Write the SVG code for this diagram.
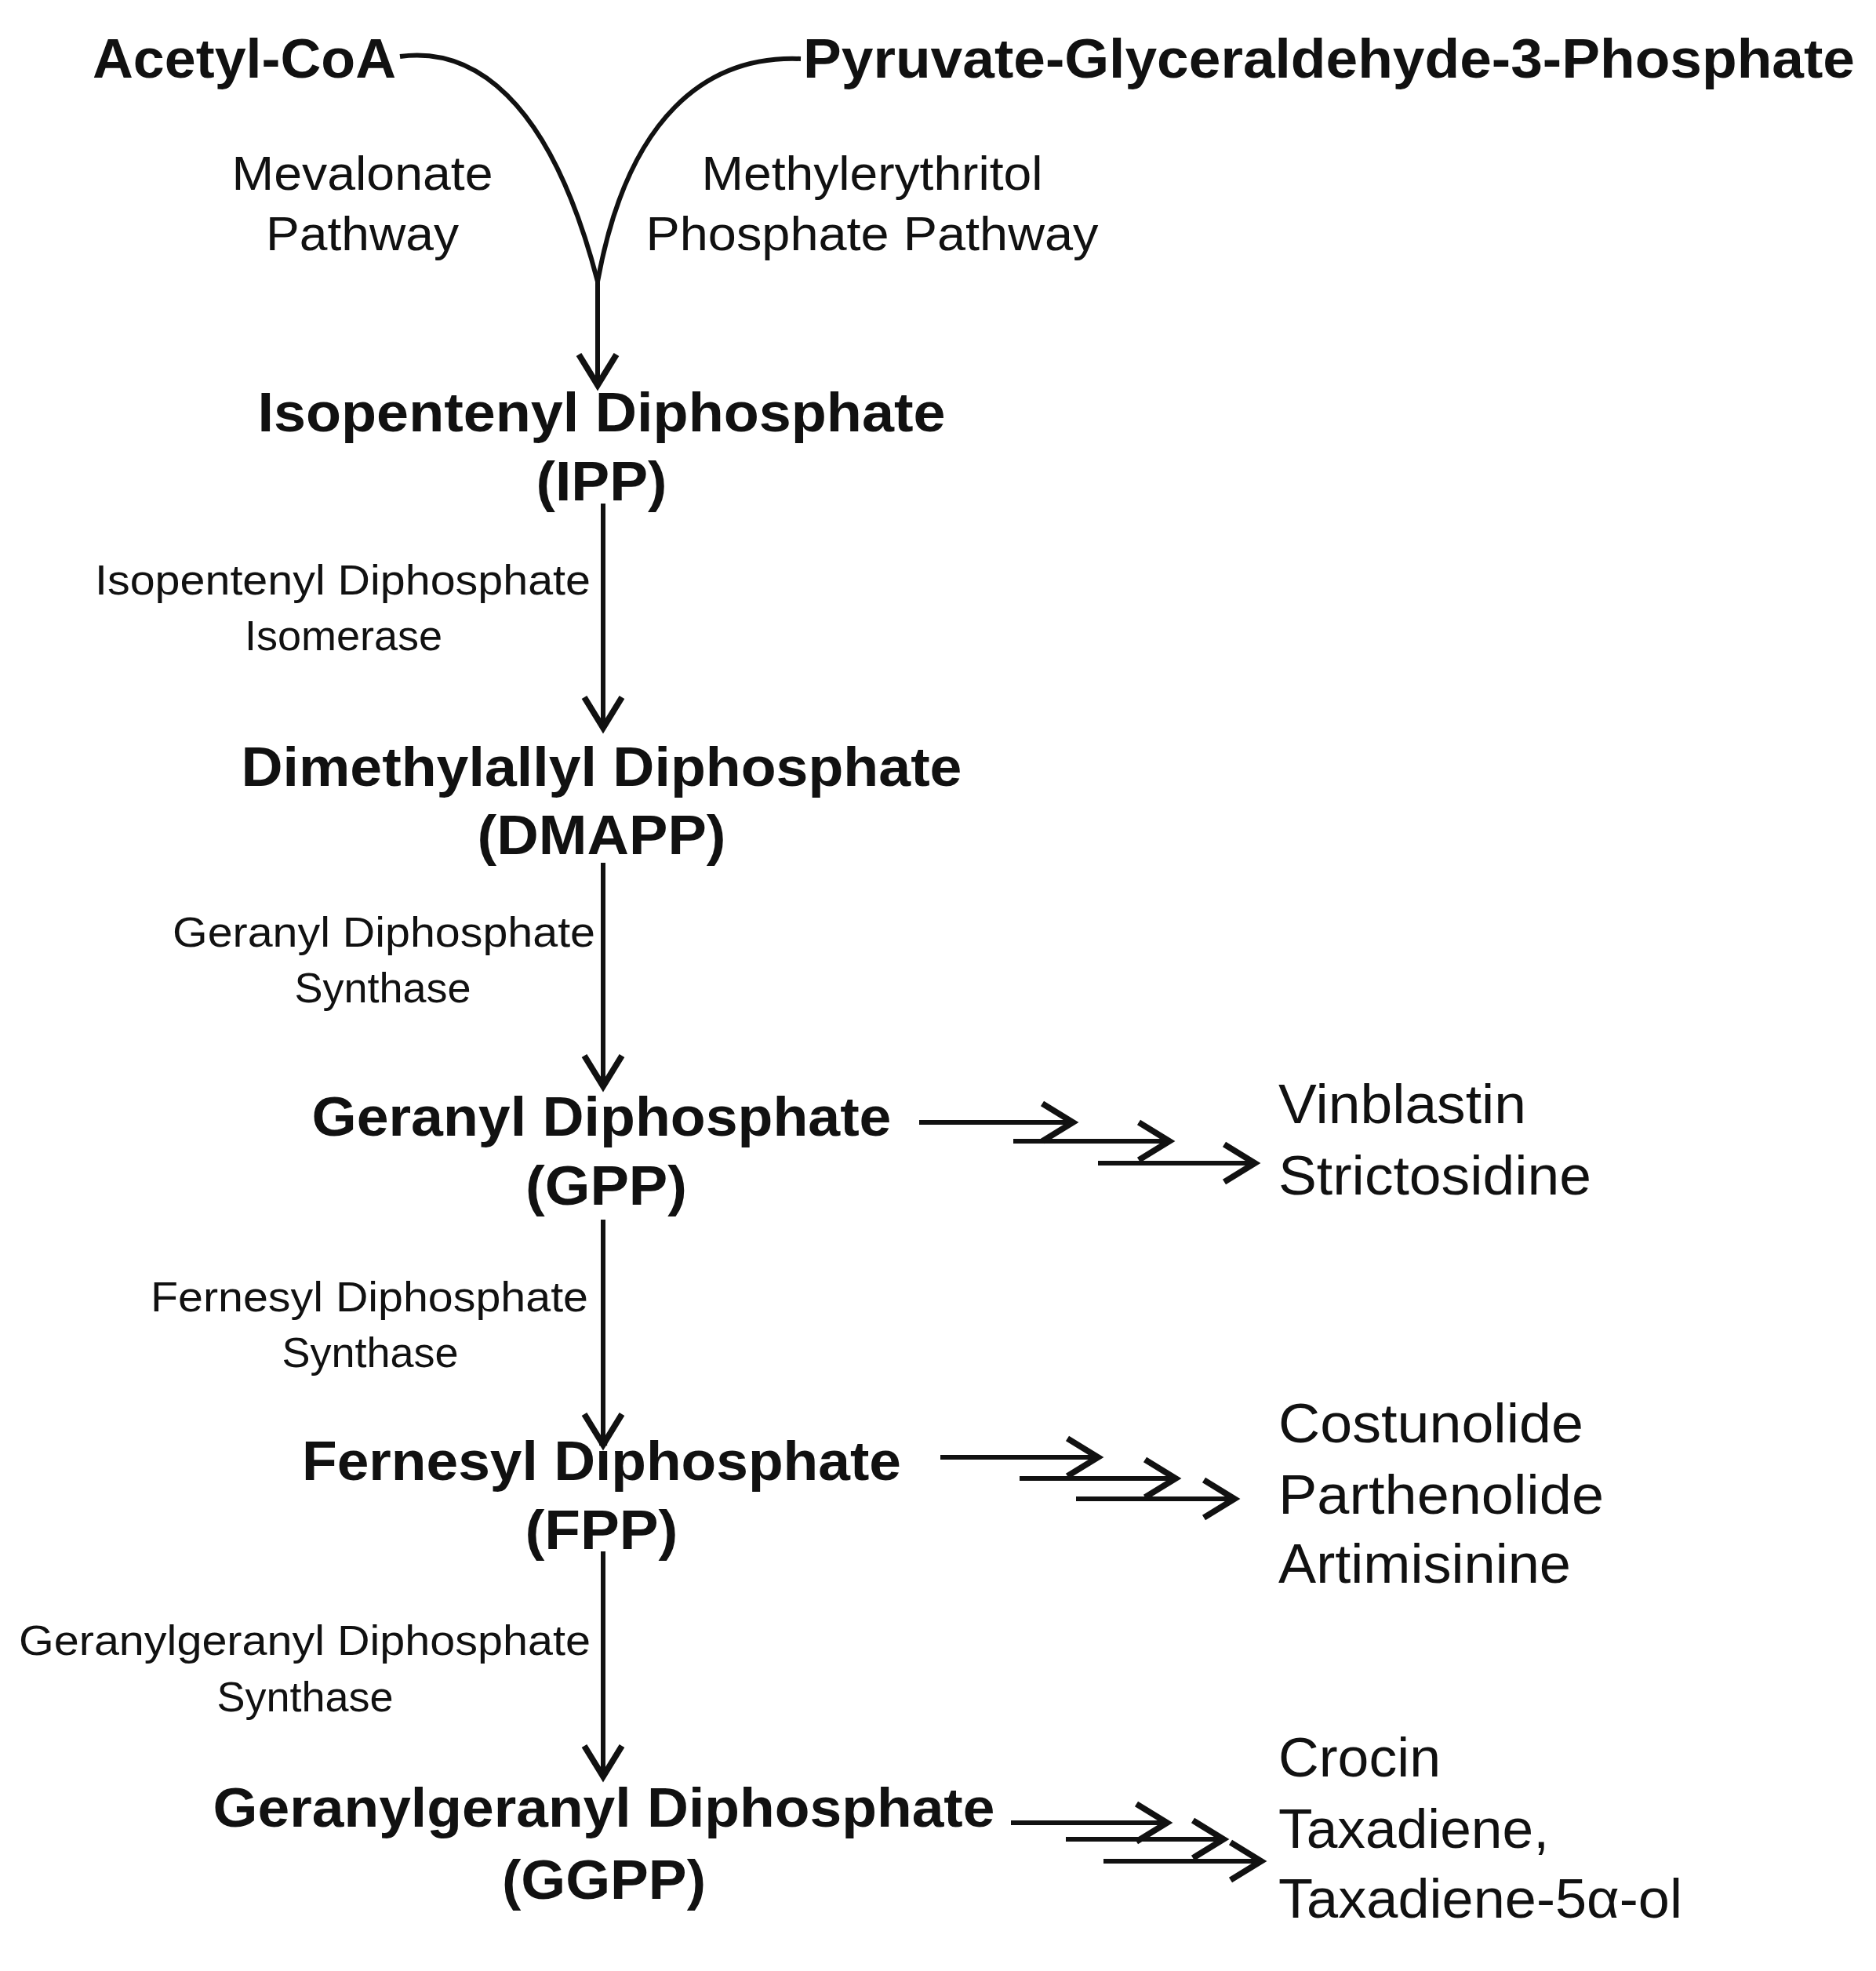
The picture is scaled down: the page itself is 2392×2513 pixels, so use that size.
<svg xmlns="http://www.w3.org/2000/svg" width="2392" height="2513" viewBox="0 0 2392 2513">
<style>
text{font-family:"Liberation Sans",Arial,sans-serif;fill:#111}
.b{font-weight:bold;font-size:70px}
.e{font-size:54px}
.m{font-size:62px}
.p{font-size:70px}
.c{fill:none;stroke:#111;stroke-width:6}
</style>
<defs>
<marker id="a" markerWidth="10" markerHeight="10" refX="8" refY="5" orient="auto" markerUnits="strokeWidth">
<path d="M1.5,1 L8,5 L1.5,9" fill="none" stroke="#111" stroke-width="1.3"/>
</marker>
</defs>
<rect width="2392" height="2513" fill="#fff"/>
<g id="acetyl"><text class="b" x="118" y="99" textLength="387" lengthAdjust="spacingAndGlyphs">Acetyl-CoA</text></g>
<g id="pyruvate"><text class="b" x="1024" y="99" textLength="1341" lengthAdjust="spacingAndGlyphs">Pyruvate-Glyceraldehyde-3-Phosphate</text></g>
<g id="mev"><text class="m" x="462" y="242" text-anchor="middle" textLength="333" lengthAdjust="spacingAndGlyphs">Mevalonate</text><text class="m" x="462" y="319" text-anchor="middle" textLength="246" lengthAdjust="spacingAndGlyphs">Pathway</text></g>
<g id="mep"><text class="m" x="1112" y="242" text-anchor="middle" textLength="435" lengthAdjust="spacingAndGlyphs">Methylerythritol</text><text class="m" x="1112" y="319" text-anchor="middle" textLength="577" lengthAdjust="spacingAndGlyphs">Phosphate  Pathway</text></g>
<g id="ipp"><text class="b" x="767" y="550" text-anchor="middle" textLength="877" lengthAdjust="spacingAndGlyphs">Isopentenyl Diphosphate</text><text class="b" x="767" y="638" text-anchor="middle" textLength="167" lengthAdjust="spacingAndGlyphs">(IPP)</text></g>
<g id="e1"><text class="e" x="753" y="758" text-anchor="end" textLength="632" lengthAdjust="spacingAndGlyphs">Isopentenyl Diphosphate</text><text class="e" x="438" y="829" text-anchor="middle">Isomerase</text></g>
<g id="dmapp"><text class="b" x="767" y="1002" text-anchor="middle" textLength="919" lengthAdjust="spacingAndGlyphs">Dimethylallyl Diphosphate</text><text class="b" x="767" y="1089" text-anchor="middle" textLength="317" lengthAdjust="spacingAndGlyphs">(DMAPP)</text></g>
<g id="e2"><text class="e" x="759" y="1207" text-anchor="end" textLength="539" lengthAdjust="spacingAndGlyphs">Geranyl Diphosphate</text><text class="e" x="488" y="1278" text-anchor="middle">Synthase</text></g>
<g id="gpp"><text class="b" x="767" y="1448" text-anchor="middle" textLength="739" lengthAdjust="spacingAndGlyphs">Geranyl Diphosphate</text><text class="b" x="773" y="1536" text-anchor="middle" textLength="206" lengthAdjust="spacingAndGlyphs">(GPP)</text></g>
<g id="gppprod"><text class="p" x="1630" y="1432" textLength="316" lengthAdjust="spacingAndGlyphs">Vinblastin</text><text class="p" x="1630" y="1523" textLength="399" lengthAdjust="spacingAndGlyphs">Strictosidine</text></g>
<g id="e3"><text class="e" x="750" y="1672" text-anchor="end" textLength="558" lengthAdjust="spacingAndGlyphs">Fernesyl Diphosphate</text><text class="e" x="472" y="1743" text-anchor="middle">Synthase</text></g>
<g id="fpp"><text class="b" x="767" y="1887" text-anchor="middle" textLength="764" lengthAdjust="spacingAndGlyphs">Fernesyl Diphosphate</text><text class="b" x="767" y="1975" text-anchor="middle" textLength="195" lengthAdjust="spacingAndGlyphs">(FPP)</text></g>
<g id="fppprod"><text class="p" x="1630" y="1839" textLength="389" lengthAdjust="spacingAndGlyphs">Costunolide</text><text class="p" x="1630" y="1930" textLength="415" lengthAdjust="spacingAndGlyphs">Parthenolide</text><text class="p" x="1630" y="2018" textLength="373" lengthAdjust="spacingAndGlyphs">Artimisinine</text></g>
<g id="e4"><text class="e" x="753" y="2110" text-anchor="end" textLength="729" lengthAdjust="spacingAndGlyphs">Geranylgeranyl Diphosphate</text><text class="e" x="389" y="2182" text-anchor="middle">Synthase</text></g>
<g id="ggpp"><text class="b" x="770" y="2329" text-anchor="middle" textLength="997" lengthAdjust="spacingAndGlyphs">Geranylgeranyl Diphosphate</text><text class="b" x="770" y="2421" text-anchor="middle" textLength="260" lengthAdjust="spacingAndGlyphs">(GGPP)</text></g>
<g id="ggppprod"><text class="p" x="1630" y="2265" textLength="207" lengthAdjust="spacingAndGlyphs">Crocin</text><text class="p" x="1630" y="2356" textLength="345" lengthAdjust="spacingAndGlyphs">Taxadiene,</text><text class="p" x="1630" y="2445" textLength="515" lengthAdjust="spacingAndGlyphs">Taxadiene-5α-ol</text></g>
<g id="connectors">
<path class="c" d="M510,72 C600,60 700,120 762,359"/>
<path class="c" d="M1021,75 C900,70 800,150 762,359 L762,491" marker-end="url(#a)"/>
<path class="c" d="M769,642 L769,928" marker-end="url(#a)"/>
<path class="c" d="M769,1100 L769,1385" marker-end="url(#a)"/>
<path class="c" d="M769,1555 L769,1842" marker-end="url(#a)"/>
<path class="c" d="M769,1978 L769,2265" marker-end="url(#a)"/>
<path class="c" d="M1172,1431 L1368,1431" marker-end="url(#a)"/>
<path class="c" d="M1292,1455 L1491,1455" marker-end="url(#a)"/>
<path class="c" d="M1400,1483 L1600,1483" marker-end="url(#a)"/>
<path class="c" d="M1199,1858 L1400,1858" marker-end="url(#a)"/>
<path class="c" d="M1300,1885 L1499,1885" marker-end="url(#a)"/>
<path class="c" d="M1372,1911 L1574,1911" marker-end="url(#a)"/>
<path class="c" d="M1289,2324 L1488,2324" marker-end="url(#a)"/>
<path class="c" d="M1359,2345 L1560,2345" marker-end="url(#a)"/>
<path class="c" d="M1407,2373 L1608,2373" marker-end="url(#a)"/>
</g>
</svg>
